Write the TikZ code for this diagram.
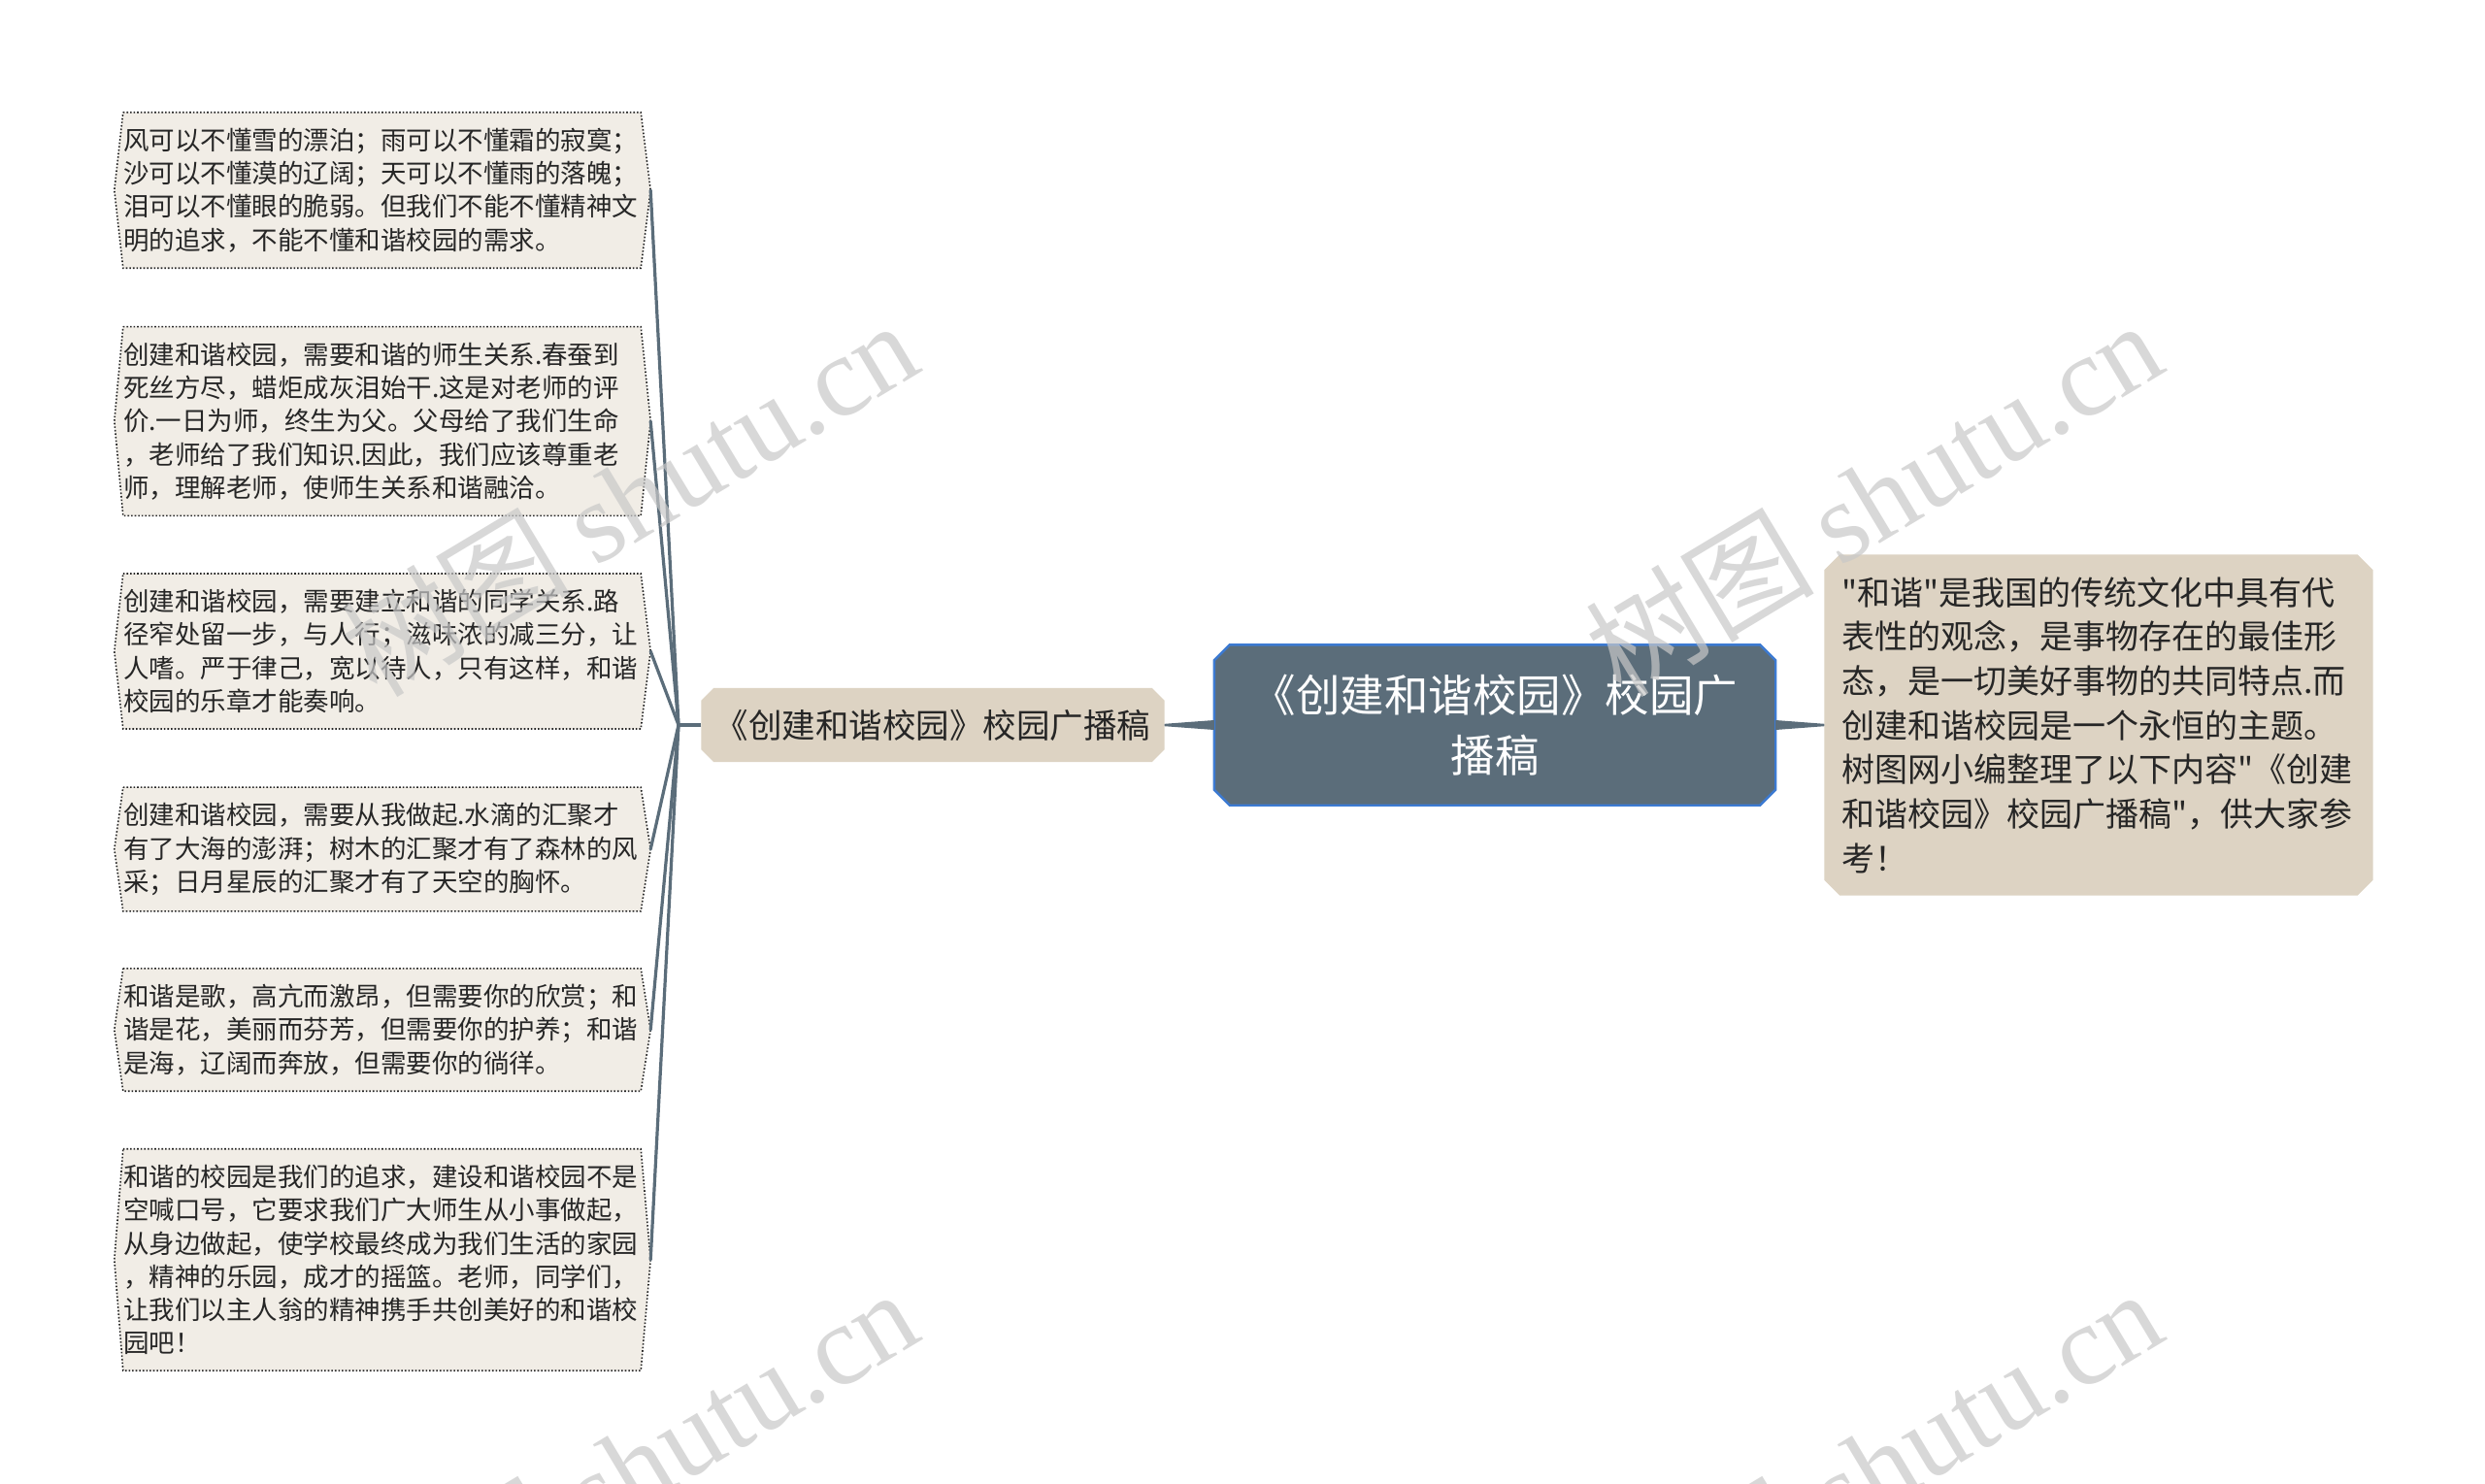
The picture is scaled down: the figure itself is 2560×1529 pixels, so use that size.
\documentclass[tikz,border=0pt]{standalone}
\usepackage{fontspec}
\setmainfont{Noto Sans CJK SC}[Ligatures=TeXOff]
\newfontfamily\wmlatin{Liberation Serif}
\newfontfamily\wmcjk{Noto Sans CJK SC}
\usetikzlibrary{backgrounds,calc}
\definecolor{rootfill}{HTML}{5B6D7A}
\definecolor{rootborder}{HTML}{3C7AD2}
\definecolor{beige}{HTML}{DDD3C3}
\definecolor{leaffill}{HTML}{F1EDE6}
\definecolor{linkc}{HTML}{5B6D7A}
\definecolor{txtc}{HTML}{262626}
\definecolor{wmc}{HTML}{C8C8C8}
\tikzset{
  leafbox/.style={text width=533pt, align=left, inner xsep=0pt, inner ysep=16pt,
    text=txtc, font=\fontsize{26.5}{34.3}\selectfont},
  leafshape/.style={fill=leaffill, draw=txtc, line width=1.6pt, dotted},
  branchbox/.style={minimum width=477pt, minimum height=76pt, inner sep=0pt,
    text=txtc, font=\fontsize{34.5}{40}\selectfont},
  rootbox/.style={minimum width=578pt, minimum height=165pt, inner sep=0pt,
    text=white, align=center, font=\fontsize{45.5}{62}\selectfont},
  notebox/.style={text width=530pt, minimum height=351pt, inner xsep=17.5pt, inner ysep=0pt,
    align=left, text=txtc, font=\fontsize{34}{45.7}\selectfont},
  link/.style={draw=linkc, line width=3.2pt},
  wmark/.style={rotate=31, text=wmc, opacity=0.7, font=\fontsize{118}{118}\selectfont}
}
\newcommand{\chamfpath}[2]{%
  ([xshift=#2]#1.north west) -- ([xshift=-#2]#1.north east) --
  ([yshift=-#2]#1.north east) -- ([yshift=#2]#1.south east) --
  ([xshift=-#2]#1.south east) -- ([xshift=#2]#1.south west) --
  ([yshift=#2]#1.south west) -- ([yshift=-#2]#1.north west) -- cycle}
\newcommand{\hexpath}[1]{%
  (#1.north west) -- (#1.north east) -- ([xshift=10pt]#1.east) --
  (#1.south east) -- (#1.south west) -- ([xshift=-9pt]#1.west) -- cycle}
\begin{document}
\begin{tikzpicture}[x=1pt,y=-1pt]
\useasboundingbox (0,0) rectangle (2560,1529);
\clip (0,0) rectangle (2560,1529);

% central topic
\node[rootbox] (root) at (1540,747) {《创建和谐校园》校园广\\播稿};
% main branch
\node[branchbox] (br) at (961,747) {《创建和谐校园》校园广播稿};
% summary note
\node[notebox] (note) at (2162,747) {"和谐"是我国的传统文化中具有代\\表性的观念，是事物存在的最佳形\\态，是一切美好事物的共同特点.而\\创建和谐校园是一个永恒的主题。\\树图网小编整理了以下内容"《创建\\和谐校园》校园广播稿"，供大家参\\考！};

% leaves
\node[leafbox] (l1) at (393.5,196) {风可以不懂雪的漂泊；雨可以不懂霜的寂寞；\\沙可以不懂漠的辽阔；天可以不懂雨的落魄；\\泪可以不懂眼的脆弱。但我们不能不懂精神文\\明的追求，不能不懂和谐校园的需求。};
\node[leafbox] (l2) at (393.5,434) {创建和谐校园，需要和谐的师生关系.春蚕到\\死丝方尽，蜡炬成灰泪始干.这是对老师的评\\价.一日为师，终生为父。父母给了我们生命\\，老师给了我们知识.因此，我们应该尊重老\\师，理解老师，使师生关系和谐融洽。};
\node[leafbox] (l3) at (393.5,671) {创建和谐校园，需要建立和谐的同学关系.路\\径窄处留一步，与人行；滋味浓的减三分，让\\人嗜。严于律己，宽以待人，只有这样，和谐\\校园的乐章才能奏响。};
\node[leafbox] (l4) at (393.5,875) {创建和谐校园，需要从我做起.水滴的汇聚才\\有了大海的澎湃；树木的汇聚才有了森林的风\\采；日月星辰的汇聚才有了天空的胸怀。};
\node[leafbox] (l5) at (393.5,1061) {和谐是歌，高亢而激昂，但需要你的欣赏；和\\谐是花，美丽而芬芳，但需要你的护养；和谐\\是海，辽阔而奔放，但需要你的徜徉。};
\node[leafbox] (l6) at (393.5,1298) {和谐的校园是我们的追求，建设和谐校园不是\\空喊口号，它要求我们广大师生从小事做起，\\从身边做起，使学校最终成为我们生活的家园\\，精神的乐园，成才的摇篮。老师，同学们，\\让我们以主人翁的精神携手共创美好的和谐校\\园吧！};

\coordinate (jn) at (699,747);
\foreach \n in {l1,l2,l3,l4,l5,l6}{
  \coordinate (\n t) at ([xshift=10pt]\n.east);
}

\begin{scope}[on background layer]
  \fill[white] (0,0) rectangle (2560,1529);
  % shapes
  \fill[rootfill] \chamfpath{root}{16pt};
  \draw[rootborder, line width=2.4pt] \chamfpath{root}{16pt};
  \fill[beige] \chamfpath{br}{13pt};
  \fill[beige] \chamfpath{note}{16pt};
  \foreach \n in {l1,l2,l3,l4,l5,l6}{
    \path[leafshape] \hexpath{\n};
  }
  % connectors
  \fill[linkc] ([yshift=5pt]root.west) -- ([yshift=-5pt]root.west) --
     ([yshift=-1.2pt]br.east) -- ([yshift=1.2pt]br.east) -- cycle;
  \fill[linkc] ([yshift=5pt]root.east) -- ([yshift=-5pt]root.east) --
     ([yshift=-1.2pt]note.west) -- ([yshift=1.2pt]note.west) -- cycle;
  \draw[link] (br.west) -- (jn);
  \foreach \n in {l1,l2,l3,l4,l5,l6}{
    \draw[link, line cap=round] (jn) -- (\n t);
  }
\end{scope}

% watermarks
\node[wmark] (wm1) at (648,512) {{\wmcjk 树图} {\wmlatin shutu.cn}};
\node[wmark] (wm2) at (1930,512) {{\wmcjk 树图} {\wmlatin shutu.cn}};
\node[wmark] (wm3) at (648,1510) {{\wmcjk 树图} {\wmlatin shutu.cn}};
\node[wmark] (wm4) at (1930,1510) {{\wmcjk 树图} {\wmlatin shutu.cn}};
\end{tikzpicture}
\end{document}
